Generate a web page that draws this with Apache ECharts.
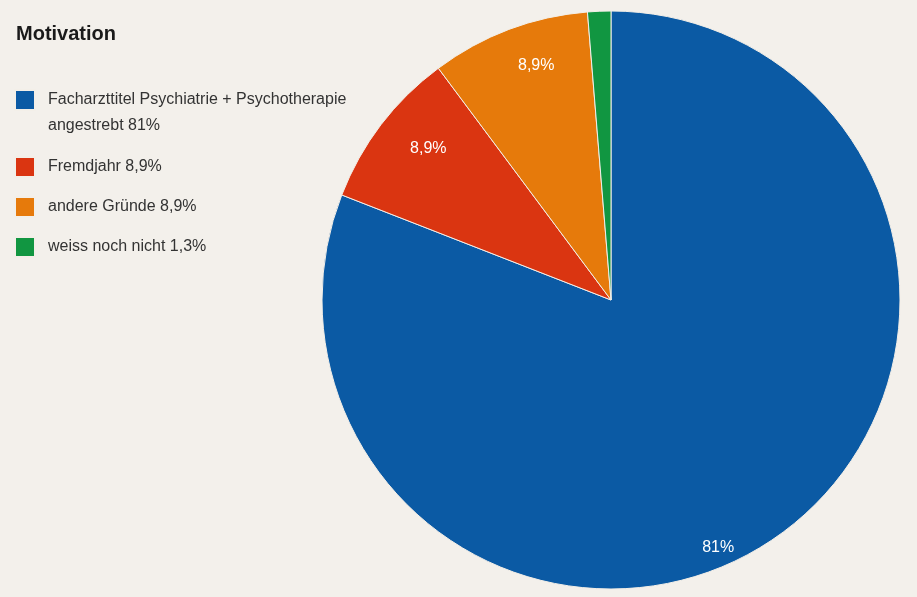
<!DOCTYPE html>
<html>
<head>
<meta charset="utf-8">
<script src="https://cdn.jsdelivr.net/npm/echarts@6/dist/echarts.min.js"></script>
<style>
html,body{margin:0;padding:0;background:#f3f0eb;}
#chart{width:917px;height:597px;}
</style>
</head>
<body>
<div id="chart"></div>
<script>
const titleText = "Motivation";
const categories = [
  "Facharzttitel Psychiatrie + Psychotherapie angestrebt",
  "Fremdjahr",
  "andere Gründe",
  "weiss noch nicht"
];
const values = [81, 8.9, 8.9, 1.3];
const legendLabels = [
  " \nFacharzttitel Psychiatrie + Psychotherapie\nangestrebt 81%",
  "Fremdjahr 8,9%",
  "andere Gründe 8,9%",
  "weiss noch nicht 1,3%"
];
const showSliceLabel = [true, true, true, false];
const colors = ["#0b5aa4", "#da3511", "#e67a0b", "#119641"];

const fmtPct = v => String(v).replace('.', ',') + '%';
const data = categories.map((c, i) => ({ name: c, value: values[i] }));
const labelShift = [[-33, 42], [15, -1], [13, -2], [0, 0]];
const legendTops = [61, 156, 196, 236];

const chart = echarts.init(document.getElementById('chart'));
chart.setOption({
  backgroundColor: '#f3f0eb',
  animation: false,
  color: colors,
  title: {
    text: titleText,
    left: 16, top: 24, padding: 0,
    textStyle: { fontFamily: 'Liberation Sans, Arial, sans-serif', fontSize: 20, fontWeight: 'bold', color: '#1a1a1a' }
  },
  legend: categories.map((c, i) => ({
    data: [c],
    orient: 'vertical',
    left: 14, top: legendTops[i], padding: 0,
    icon: 'rect', itemWidth: 20, itemHeight: 20, itemGap: 0, itemTextGap: 14,
    selectedMode: false,
    formatter: name => legendLabels[categories.indexOf(name)],
    textStyle: { fontFamily: 'Liberation Sans, Arial, sans-serif', fontSize: 16, color: '#333', lineHeight: i === 0 ? 26 : 18, padding: [0, 0, 0, 8] }
  })),
  series: [
    {
      type: 'pie',
      center: [611, 300],
      radius: 289,
      startAngle: 90,
      clockwise: true,
      data: data,
      label: { show: false },
      labelLine: { show: false },
      itemStyle: { borderColor: '#f3efe8', borderWidth: 1 },
      emphasis: { disabled: true }
    },
    {
      type: 'pie',
      center: [611, 300],
      radius: [202, 289],
      startAngle: 90,
      clockwise: true,
      silent: true,
      legendHoverLink: false,
      data: data,
      itemStyle: { color: 'rgba(0,0,0,0)' },
      label: {
        show: true, position: 'inside',
        formatter: p => showSliceLabel[p.dataIndex] ? fmtPct(p.value) : '',
        color: '#ffffff', fontSize: 16,
        fontFamily: 'Liberation Sans, Arial, sans-serif'
      },
      labelLayout: p => {
        const s = labelShift[p.dataIndex] || [0, 0];
        return { dx: s[0], dy: s[1] };
      },
      labelLine: { show: false }
    }
  ]
});
</script>
</body>
</html>
